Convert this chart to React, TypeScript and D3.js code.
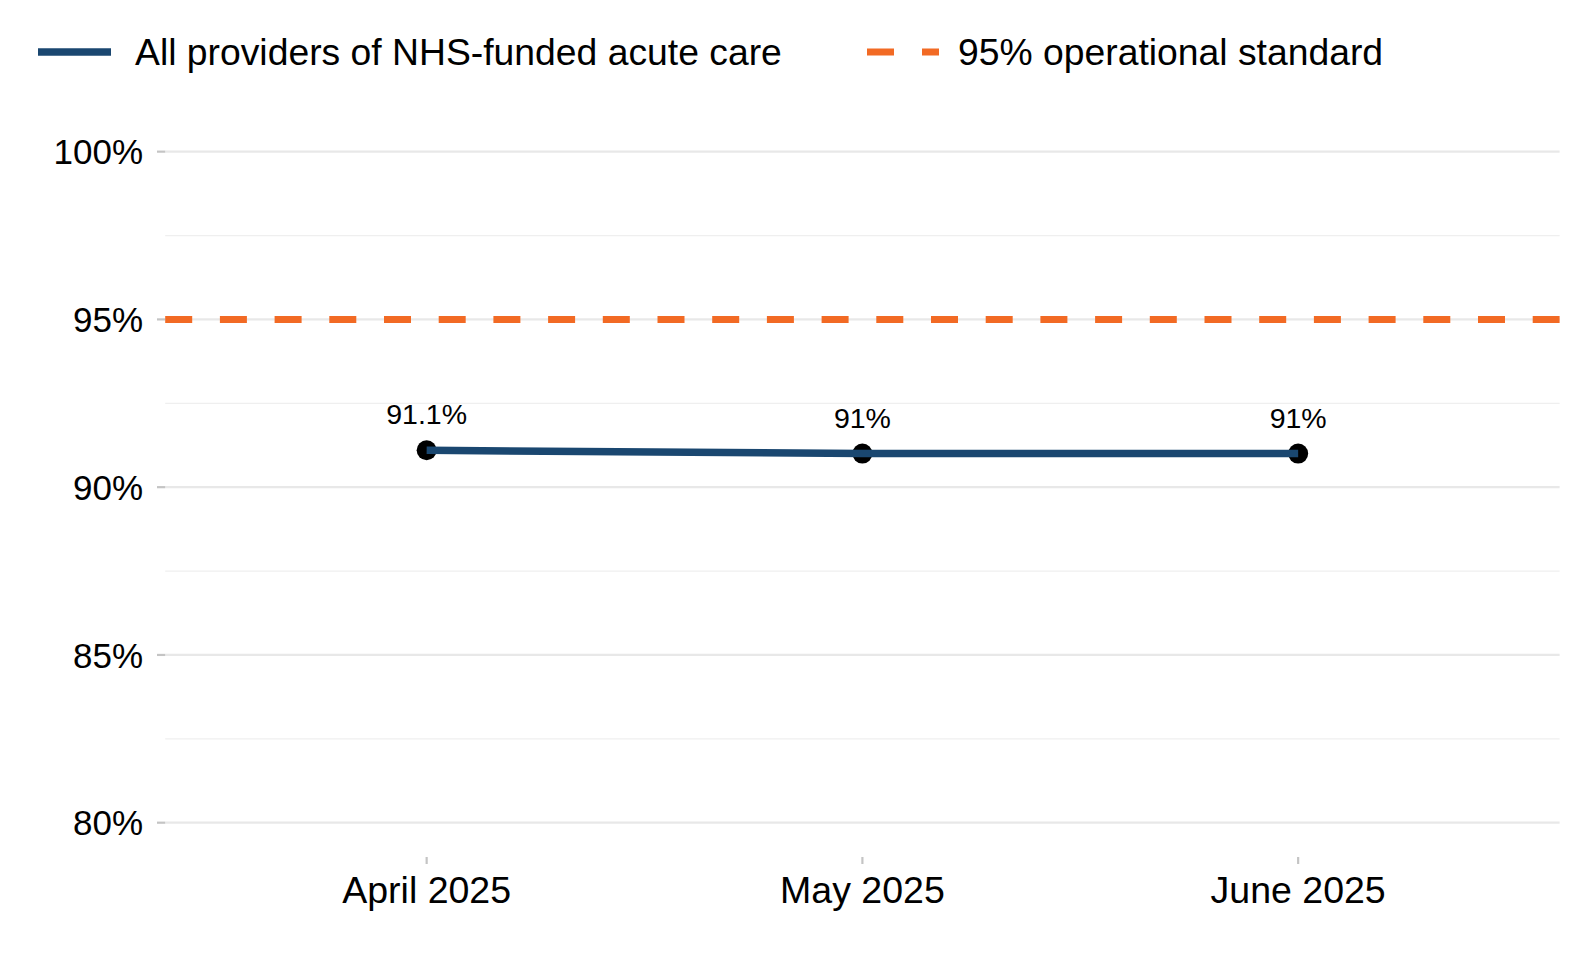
import React, {useEffect} from 'react'
import * as d3 from 'd3'

// data
const months = ['April 2025', 'May 2025', 'June 2025']
const values = [91.1, 91.0, 91.0]
const valueLabels = ['91.1%', '91%', '91%']
const standard = 95
const majorTicks = [80, 85, 90, 95, 100]
const minorTicks = [82.5, 87.5, 92.5, 97.5]
const seriesName = 'All providers of NHS-funded acute care'
const standardName = '95% operational standard'

const W = 1574
const H = 960
const FONT = '"Liberation Sans", Arial, sans-serif'
const BLUE = '#1a4770'
const ORANGE = '#f26a24'

function App() {
  useEffect(() => {
    document.body.style.margin = '0'
    document.body.style.overflow = 'hidden'
  }, [])

  const x = d3.scalePoint<string>().domain(months).range([165.2, 1559.6]).padding(0.6)
  const y = d3.scaleLinear().domain([79, 101]).range([856.25, 118.1])
  const [x0, x1] = x.range()

  const line = d3
    .line<number>()
    .x((_, i) => x(months[i]) as number)
    .y((d) => y(d))

  return (
    <svg width={W} height={H} style={{display: 'block', background: '#fff'}} fontFamily={FONT}>
      {/* legend */}
      <line x1={38} x2={111} y1={52} y2={52} stroke={BLUE} strokeWidth={7.5} />
      <text x={135} y={65} fontSize={37.3} fill="#000">
        {seriesName}
      </text>
      <line x1={867} x2={939} y1={52} y2={52} stroke={ORANGE} strokeWidth={7} strokeDasharray="27 28" />
      <text x={958} y={65} fontSize={37.3} fill="#000">
        {standardName}
      </text>

      {/* grid */}
      {minorTicks.map((t) => (
        <line key={'mn' + t} x1={x0} x2={x1} y1={y(t)} y2={y(t)} stroke="#efefef" strokeWidth={1.2} />
      ))}
      {majorTicks.map((t) => (
        <g key={'mj' + t}>
          <line x1={x0} x2={x1} y1={y(t)} y2={y(t)} stroke="#e8e8e8" strokeWidth={2.2} />
          <line x1={157} x2={x0} y1={y(t)} y2={y(t)} stroke="#c4c4c4" strokeWidth={2.2} />
          <text x={143} y={y(t)} dy="0.36em" textAnchor="end" fontSize={35} fill="#000">
            {t}%
          </text>
        </g>
      ))}

      {/* x axis */}
      {months.map((m) => (
        <g key={m}>
          <line x1={x(m)} x2={x(m)} y1={857} y2={864} stroke="#c4c4c4" strokeWidth={2.2} />
          <text x={x(m)} y={903} textAnchor="middle" fontSize={37.5} fill="#000">
            {m}
          </text>
        </g>
      ))}

      {/* standard */}
      <line
        x1={x0}
        x2={x1}
        y1={y(standard)}
        y2={y(standard)}
        stroke={ORANGE}
        strokeWidth={7}
        strokeDasharray="27 27.7"
      />

      {/* series */}
      {values.map((v, i) => (
        <circle key={'p' + i} cx={x(months[i])} cy={y(v)} r={10} fill="#000" />
      ))}
      <path d={line(values) || ''} fill="none" stroke={BLUE} strokeWidth={7.5} />
      {values.map((v, i) => (
        <text key={'l' + i} x={x(months[i])} y={y(v) - 26} textAnchor="middle" fontSize={28.5} fill="#000">
          {valueLabels[i]}
        </text>
      ))}
    </svg>
  )
}

export default App
